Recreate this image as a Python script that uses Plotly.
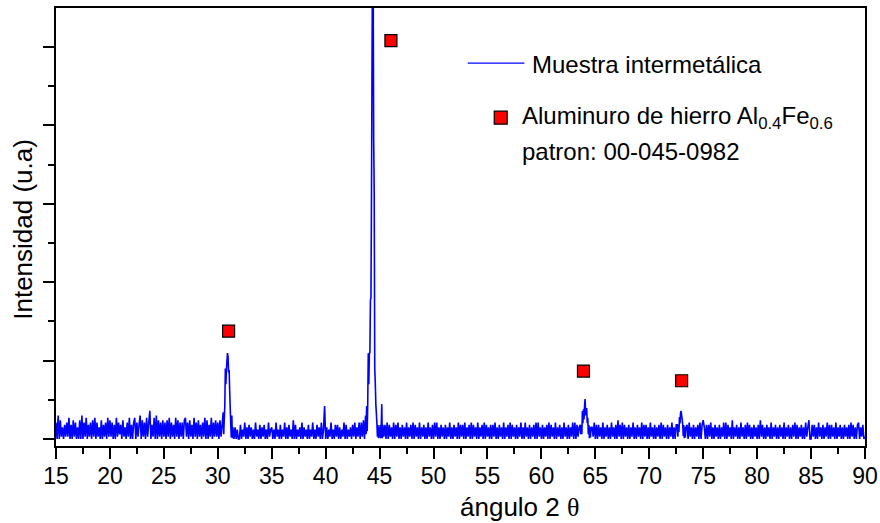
import plotly.graph_objects as go

# ---------------- data ----------------
# baseline noise, one hex code per 0.1 deg from 15.0 to 90.0 (value = code * 30 counts)
baseline_start = 15.0
baseline_step = 0.1
baseline_codes = (
    "70a0815061" "7190608170" "5080a07190" "6170819071" "5080617091"
    "8170609172" "6081507190" "60790716a0" "8170917c06" "190a081708"
    "1708190716" "0918071708" "9170816091" "7081607190" "8061907181"
    "7081607190" "8160605040" "0604170506" "1504071406" "0516040714"
    "5040714060" "4170506140" "8060415070" "5140604170" "406150704e"
    "0504170406" "1605041706" "0415061705" "1707180716" "0718070617"
    "0705160706" "1507061705" "0615070516" "0706150705" "1605071506"
    "0717050615" "0605170506" "1507061607" "0516070615" "0705160706"
    "1506061705" "0615070516" "0706150605" "1705071506" "0516070715"
    "0605160706" "1507051605" "0715060517" "0706150616" "0616060517"
    "0606150705" "1605071506" "0816070615" "0605170506" "1507061605"
    "0715060516" "0706150605" "1705061507" "0516060715" "0605160706"
    "8506061705" "0615060517" "0706150805" "1605071506" "0716050615"
    "0608160506" "1507051605" "0615070516" "0506170605" "1605071580"
    "0616050715" "0605170606" "1507051605" "0615060716" "0506705160"
    "1"
)
code_scale = 30

# diffraction peaks (2theta, counts)
peak1_x = [30.50, 30.55, 30.60, 30.65, 30.70, 30.75, 30.80, 30.85, 30.90, 30.95,
           31.00, 31.05, 31.10, 31.15, 31.20, 31.25, 31.30, 31.35, 31.40]
peak1_y = [340, 60, 260, 420, 900, 700, 880, 1000, 1095, 1050,
           850, 880, 620, 400, 200, 20, 300, 10, 150]

peak2_x = [43.70, 43.75, 43.80, 43.85, 43.90, 43.95, 44.00, 44.05, 44.10, 44.15,
           44.20, 44.25, 44.30, 44.35, 44.40, 44.45, 44.50, 44.55, 44.60, 44.65,
           44.70, 44.75, 44.80, 44.85, 44.90, 44.95, 45.00, 45.05, 45.10, 45.15,
           45.20, 45.25, 45.30]
peak2_y = [300, 60, 420, 100, 450, 1095, 700, 1095, 1100, 1770,
           1800, 3170, 4850, 6500, 6000, 3830, 3170, 900, 710, 450,
           330, 200, 30, 180, 10, 150, 20, 180, 10, 150,
           445, 10, 180]

peak3_x = [63.60, 63.65, 63.70, 63.75, 63.80, 63.85, 63.90, 63.95, 64.00, 64.05,
           64.10, 64.15, 64.20, 64.25, 64.30, 64.35, 64.40, 64.45, 64.50, 64.55, 64.60]
peak3_y = [180, 60, 180, 60, 357, 200, 380, 250, 420, 510,
           300, 350, 395, 200, 270, 60, 180, 10, 150, 20, 150]

peak4_x = [72.60, 72.65, 72.70, 72.75, 72.80, 72.85, 72.90, 72.95, 73.00, 73.05,
           73.10, 73.15, 73.20, 73.25, 73.30, 73.35, 73.40]
peak4_y = [180, 30, 180, 90, 280, 200, 330, 357, 300, 250,
           180, 40, 180, 10, 150, 20, 150]

# reference pattern markers (Al0.4Fe0.6, 00-045-0982)
ref_x = [31.0, 46.05, 63.9, 73.0]
ref_y = [1376, 5083, 866, 743]

x_ticks = [15, 20, 25, 30, 35, 40, 45, 50, 55, 60, 65, 70, 75, 80, 85, 90]

# ---------------- build pattern ----------------
peaks = [(peak1_x, peak1_y), (peak2_x, peak2_y), (peak3_x, peak3_y), (peak4_x, peak4_y)]
pts = []
for i, ch in enumerate(baseline_codes):
    xv = round(baseline_start + i * baseline_step, 2)
    if any(px[0] <= xv <= px[-1] for px, _ in peaks):
        continue
    pts.append((xv, int(ch, 16) * code_scale))
for px, py in peaks:
    pts.extend(zip(px, py))
pts.sort()
xs = [p[0] for p in pts]
ys = [p[1] for p in pts]

FONT = "Liberation Sans, Arial, sans-serif"

fig = go.Figure()
fig.add_trace(go.Scatter(x=xs, y=ys, mode="lines",
                         line=dict(color="#0000FF", width=1.6, simplify=False),
                         showlegend=False, hoverinfo="skip"))
fig.add_trace(go.Scatter(x=ref_x, y=ref_y, mode="markers",
                         marker=dict(symbol="square", size=12, color="#FF0000",
                                     line=dict(color="black", width=1.2)),
                         showlegend=False))

# legend drawn manually
fig.add_shape(type="line", xref="paper", yref="paper",
              x0=0.509, x1=0.579, y0=0.874, y1=0.874,
              line=dict(color="#0000FF", width=1.3))
fig.add_shape(type="rect", xref="paper", yref="paper",
              x0=0.5417, x1=0.5577, y0=0.7347, y1=0.7644,
              fillcolor="#FF0000", line=dict(color="black", width=1.2))
fig.add_annotation(xref="paper", yref="paper", x=0.5855, y=0.870,
                   xanchor="left", yanchor="middle", showarrow=False,
                   text="Muestra intermetálica",
                   font=dict(family=FONT, size=24, color="black"))
fig.add_annotation(xref="paper", yref="paper", x=0.573, y=0.750,
                   xanchor="left", yanchor="middle", showarrow=False,
                   text="Aluminuro de hierro Al<sub>0.4</sub>Fe<sub>0.6</sub>",
                   font=dict(family=FONT, size=24, color="black"))
fig.add_annotation(xref="paper", yref="paper", x=0.573, y=0.672,
                   xanchor="left", yanchor="middle", showarrow=False,
                   text="patron: 00-045-0982",
                   font=dict(family=FONT, size=24, color="black"))

# axis titles
fig.add_annotation(xref="paper", yref="paper", x=0.5725, y=-0.139,
                   xanchor="center", yanchor="middle", showarrow=False,
                   text='ángulo 2 <span style="font-family:Liberation Serif, serif">θ</span>',
                   font=dict(family=FONT, size=26, color="black"))
fig.add_annotation(xref="paper", yref="paper", x=-0.0408, y=0.496,
                   xanchor="center", yanchor="middle", showarrow=False, textangle=-90,
                   text="Intensidad (u.a)",
                   font=dict(family=FONT, size=26, color="black"))

fig.update_layout(
    width=880, height=523,
    margin=dict(l=56, r=15, t=8, b=77, autoexpand=False),
    paper_bgcolor="white", plot_bgcolor="white",
    font=dict(family=FONT, color="black"),
    showlegend=False,
)
fig.update_xaxes(
    range=[15, 90], tickvals=x_ticks, ticktext=[str(v) for v in x_ticks],
    ticks="outside", ticklen=11, tickwidth=2, tickcolor="black",
    minor=dict(ticks="outside", ticklen=6, tickwidth=2, tickcolor="black", dtick=2.5, showgrid=False),
    showline=True, linewidth=2, linecolor="black", mirror=True,
    showgrid=False, zeroline=False, automargin=False,
    tickfont=dict(family=FONT, size=23, color="black"),
    ticklabelstandoff=-3,
)
fig.update_yaxes(
    range=[-89, 5498], dtick=1000, tick0=0,
    ticks="outside", ticklen=11, tickwidth=2, tickcolor="black",
    minor=dict(ticks="outside", ticklen=6, tickwidth=2, tickcolor="black", dtick=500, showgrid=False),
    showticklabels=False, automargin=False,
    showline=True, linewidth=2, linecolor="black", mirror=True,
    showgrid=False, zeroline=False,
)

fig.write_html("out.html", config={"displayModeBar": False},
               post_script="document.body.style.margin='0';")
